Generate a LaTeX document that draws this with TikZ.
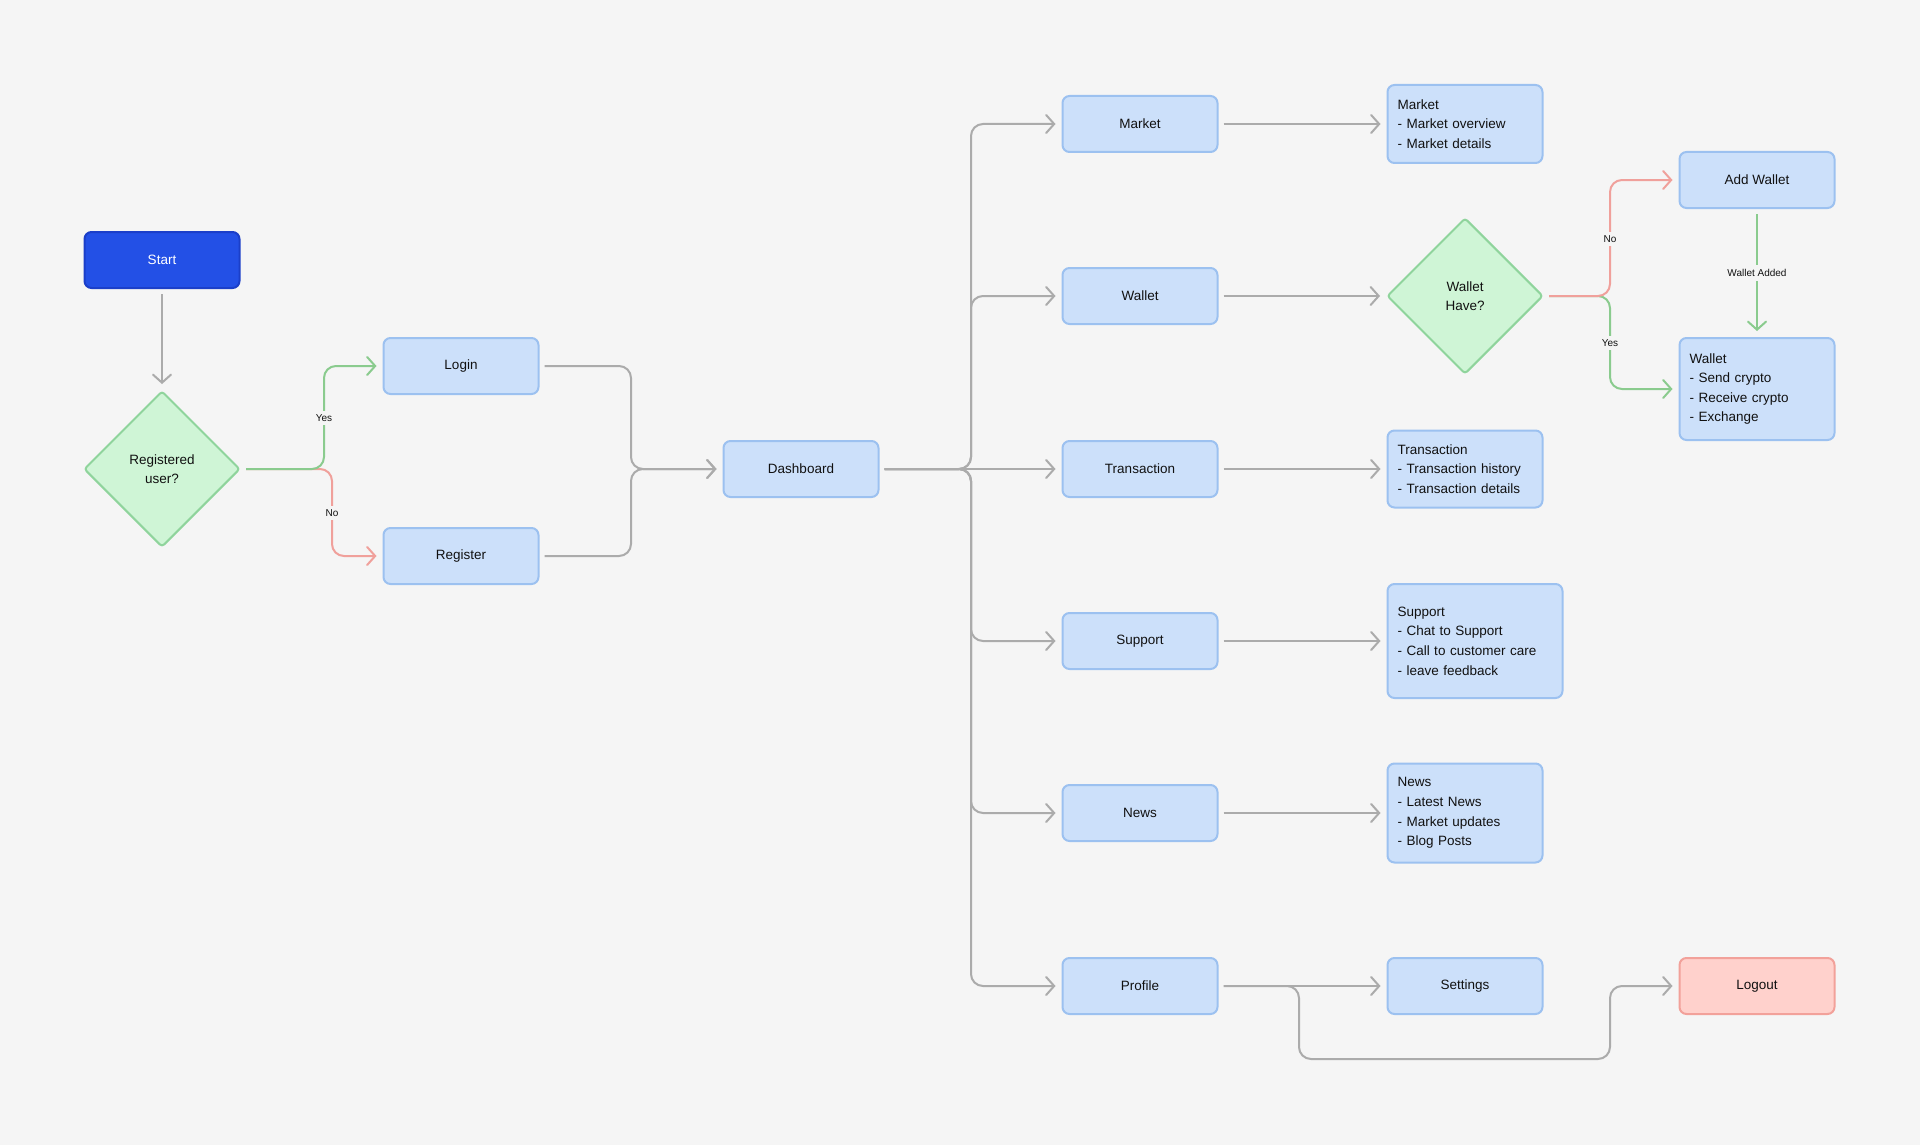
\documentclass[tikz,border=0pt]{standalone}
\usepackage{fontspec}
\setmainfont{Liberation Sans}
\usetikzlibrary{shapes.geometric, arrows.meta}

\definecolor{bgcol}{HTML}{F5F5F5}
\definecolor{boxfill}{HTML}{CCE0FA}
\definecolor{boxline}{HTML}{9CC1F0}
\definecolor{decfill}{HTML}{CFF5D6}
\definecolor{decline}{HTML}{8FD49C}
\definecolor{startfill}{HTML}{2350E6}
\definecolor{startline}{HTML}{1B3FC9}
\definecolor{exitfill}{HTML}{FFD1CC}
\definecolor{exitline}{HTML}{F2A19A}
\definecolor{grayline}{HTML}{ABABAB}
\definecolor{yesline}{HTML}{8ACB8E}
\definecolor{noline}{HTML}{F0A09B}
\definecolor{inkcol}{HTML}{111111}

\tikzset{
  box/.style={rectangle, rounded corners=7pt, draw=boxline, fill=boxfill, line width=2pt,
    minimum width=155pt, minimum height=56pt, text=inkcol,
    font=\fontsize{13.5pt}{19.6pt}\selectfont},
  info/.style={box, align=left, text width=135pt, inner sep=10pt},
  startbox/.style={box, draw=startline, fill=startfill, text=white},
  exitbox/.style={box, draw=exitline, fill=exitfill},
  decision/.style={diamond, aspect=1, inner sep=0pt, minimum width=156pt, minimum height=156pt,
    rounded corners=3pt, draw=decline, fill=decfill, line width=2pt, text=inkcol, align=center,
    font=\fontsize{13.5pt}{19.6pt}\selectfont},
  conn/.style={draw=grayline, line width=2pt, rounded corners=12pt,
    -{Straight Barb[length=8pt, width=18pt, line cap=round]}, shorten >=6pt, shorten <=5pt},
  yesconn/.style={conn, draw=yesline},
  noconn/.style={conn, draw=noline},
  tag/.style={fill=bgcol, inner sep=4pt, text=inkcol, font=\fontsize{10pt}{12pt}\selectfont}
}

\begin{document}
\begin{tikzpicture}[x=1pt, y=-1pt]
        \useasboundingbox[fill=bgcol] (0, 0) rectangle (1920, 1145);

        % Entry
        \node at (162, 260) (Start) [startbox] {Start};
        \node at (162, 469) (Reg) [decision] {Registered\\user?};
        \node at (461, 366) (Login) [box] {Login};
        \node at (461, 556) (Register) [box] {Register};
        \node at (801, 469) (Dash) [box] {Dashboard};

        % Dashboard sections
        \node at (1140, 124) (Market) [box] {Market};
        \node at (1140, 296) (Wallet) [box] {Wallet};
        \node at (1140, 469) (Trans) [box] {Transaction};
        \node at (1140, 641) (Support) [box] {Support};
        \node at (1140, 813) (News) [box] {News};
        \node at (1140, 986) (Profile) [box] {Profile};

        % Section details
        \node at (1465, 124) (MarketInfo) [info, minimum height=78pt] {Market\\- Market overview\\- Market details};
        \node at (1465, 296) (Have) [decision] {Wallet\\Have?};
        \node at (1465, 469) (TransInfo) [info, minimum height=77pt] {Transaction\\- Transaction history\\- Transaction details};
        \node at (1475, 641) (SupportInfo) [info, text width=155pt, minimum height=114pt] {Support\\- Chat to Support\\- Call to customer care\\- leave feedback};
        \node at (1465, 813) (NewsInfo) [info, minimum height=99pt] {News\\- Latest News\\- Market updates\\- Blog Posts};
        \node at (1465, 986) (Settings) [box] {Settings};

        % Wallet and exit
        \node at (1757, 180) (AddWallet) [box] {Add Wallet};
        \node at (1757, 389) (WalletInfo) [info, minimum height=102pt] {Wallet\\- Send crypto\\- Receive crypto\\- Exchange};
        \node at (1757, 986) (Logout) [exitbox] {Logout};

        % Login flow
        \draw[conn] (Start) -- (Reg);
        \draw[noconn] (Reg.east) -- (332, 469) |- (Register.west);
        \draw[yesconn] (Reg.east) -- (324, 469) |- (Login.west);
        \node at (324, 418) (RegYes) [tag] {Yes};
        \node at (332, 513) (RegNo) [tag] {No};
        \draw[conn] (Login.east) -| (631, 469) -- (Dash.west);
        \draw[conn] (Register.east) -| (631, 469) -- (Dash.west);

        % Dashboard trunk
        \draw[conn] (Dash.east) -- (971, 469) |- (Market.west);
        \draw[conn] (Dash.east) -- (971, 469) |- (Wallet.west);
        \draw[conn] (Dash.east) -- (Trans.west);
        \draw[conn] (Dash.east) -- (971, 469) |- (Support.west);
        \draw[conn] (Dash.east) -- (971, 469) |- (News.west);
        \draw[conn] (Dash.east) -- (971, 469) |- (Profile.west);

        % Section arrows
        \draw[conn] (Market) -- (MarketInfo);
        \draw[conn] (Wallet) -- (Have);
        \draw[conn] (Trans) -- (TransInfo);
        \draw[conn] (Support.east) -- (SupportInfo.west);
        \draw[conn] (News) -- (NewsInfo);
        \draw[conn] (Profile) -- (Settings);
        \draw[conn] (Profile.east) -- (1299, 986) -- (1299, 1059) -- (1610, 1059) |- (Logout.west);

        % Wallet check
        \draw[yesconn] (Have.east) -- (1610, 296) |- (WalletInfo.west);
        \draw[noconn] (Have.east) -- (1610, 296) |- (AddWallet.west);
        \node at (1610, 239) (HaveNo) [tag] {No};
        \node at (1610, 343) (HaveYes) [tag] {Yes};
        \draw[yesconn] (AddWallet) -- (WalletInfo);
        \node at (1757, 273) (Added) [tag] {Wallet Added};
\end{tikzpicture}
\end{document}
